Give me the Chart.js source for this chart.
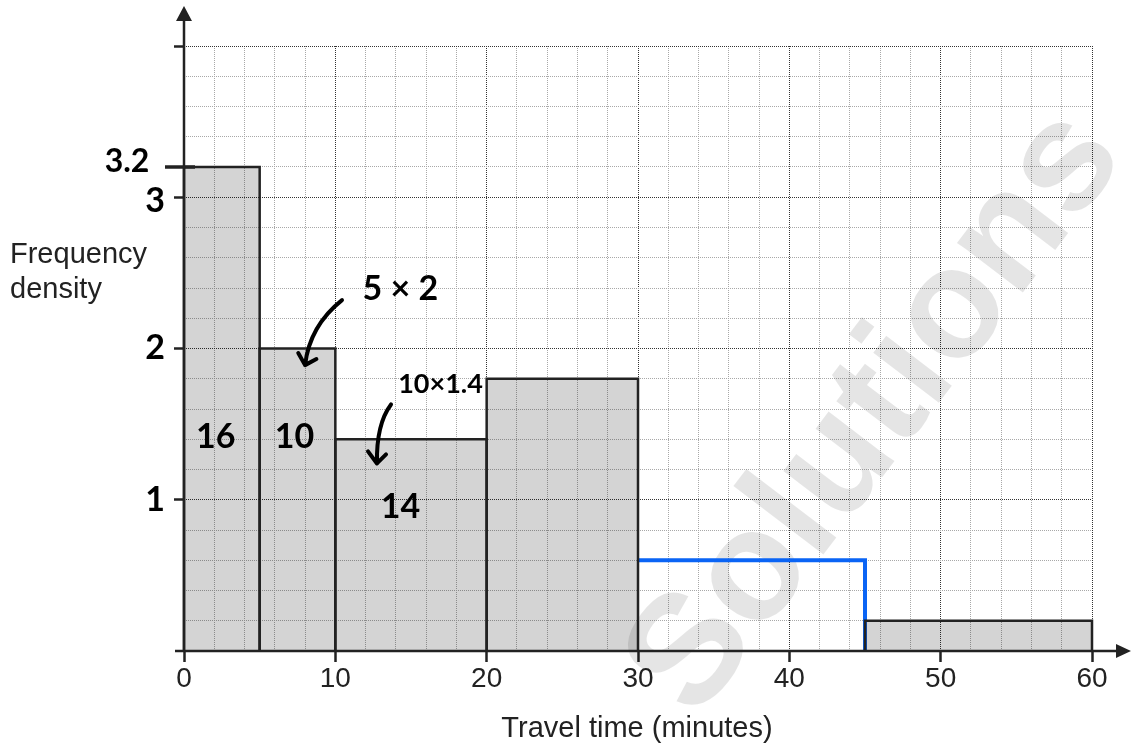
<!DOCTYPE html>
<html>
<head>
<meta charset="utf-8">
<script src="https://cdn.jsdelivr.net/npm/chart.js@4.4.1/dist/chart.umd.min.js"></script>
<style>
  html, body { margin: 0; padding: 0; background: #ffffff; }
  #wrap { width: 1131px; height: 746px; position: relative; }
</style>
</head>
<body>
<div id="wrap"><canvas id="c" width="1131" height="746"></canvas></div>
<script>
// ---- data ----
const classEdges = [0, 5, 10, 20, 30, 45, 60];          // travel time class boundaries (minutes)
const frequencyDensity = [3.2, 2, 1.4, 1.8, 0.6, 0.2];   // bar heights
const blueClassIndex = 4;                                 // class drawn as blue outline (30-45)
const xTickLabels = ['0', '10', '20', '30', '40', '50', '60'];
const yTickLabels = ['1', '2', '3'];
const yMarkLabel = '3.2';
const frequencies = ['16', '10', '14'];
const workingNotes = ['5 × 2', '10×1.4'];
const xTitle = 'Travel time (minutes)';
const yTitle = ['Frequency', 'density'];
const watermark = 'Solutions';

const INK = '#222222';
const HAND = 'bold 34px Lato, "DejaVu Sans", sans-serif';
const isInt = v => Math.abs(v - Math.round(v)) < 1e-9;

// build datasets from the arrays
const datasets = [];
for (let i = 0; i < frequencyDensity.length; i++) {
  const x0 = classEdges[i], x1 = classEdges[i + 1], h = frequencyDensity[i];
  if (i === blueClassIndex) continue;
  datasets.push({
    type: 'line',
    data: [{x: x0, y: 0}, {x: x0, y: h}, {x: x1, y: h}, {x: x1, y: 0}],
    fill: 'origin',
    backgroundColor: 'rgba(0,0,0,0.17)',
    borderColor: INK,
    borderWidth: 2.5,
    pointRadius: 0,
    tension: 0,
    clip: 4
  });
}
{
  const i = blueClassIndex;
  const x0 = classEdges[i], x1 = classEdges[i + 1], h = frequencyDensity[i];
  datasets.push({
    type: 'line',
    data: [{x: x0, y: h}, {x: x1, y: h}, {x: x1, y: 0}],
    fill: false,
    borderColor: '#0a64f5',
    borderWidth: 4,
    pointRadius: 0,
    tension: 0,
    clip: 4
  });
}

const decor = {
  id: 'decor',
  beforeDatasetsDraw(chart) {
    const ctx = chart.ctx;
    ctx.save();
    ctx.translate(877, 413);
    ctx.rotate(-52.7 * Math.PI / 180);
    ctx.font = 'bold 156px "Liberation Sans", Arial, sans-serif';
    ctx.fillStyle = 'rgba(0,0,0,0.1)';
    ctx.textAlign = 'center';
    ctx.textBaseline = 'middle';
    ctx.fillText(watermark, 0, 0);
    ctx.restore();
  },
  afterDraw(chart) {
    const ctx = chart.ctx;
    const xs = chart.scales.x, ys = chart.scales.y;
    const X = v => xs.getPixelForValue(v), Y = v => ys.getPixelForValue(v);
    const a = chart.chartArea;
    ctx.save();
    // axes
    ctx.strokeStyle = INK; ctx.fillStyle = INK; ctx.lineWidth = 2.5; ctx.lineCap = 'butt';
    ctx.beginPath();
    ctx.moveTo(a.left - 9, a.bottom); ctx.lineTo(1120, a.bottom);
    ctx.moveTo(a.left, a.bottom + 1); ctx.lineTo(a.left, 18);
    ctx.stroke();
    ctx.beginPath(); // x arrow
    ctx.moveTo(1131, a.bottom); ctx.lineTo(1116, a.bottom - 7); ctx.lineTo(1116, a.bottom + 7); ctx.closePath(); ctx.fill();
    ctx.beginPath(); // y arrow
    ctx.moveTo(a.left, 6); ctx.lineTo(a.left - 8, 21); ctx.lineTo(a.left + 8, 21); ctx.closePath(); ctx.fill();

    // 3.2 marker
    ctx.lineWidth = 3.5;
    ctx.beginPath(); ctx.moveTo(a.left - 19, Y(3.2)); ctx.lineTo(a.left + 11, Y(3.2)); ctx.stroke();

    // axis titles
    ctx.font = '29px "Liberation Sans", Arial, sans-serif';
    ctx.fillStyle = INK;
    ctx.textAlign = 'left'; ctx.textBaseline = 'alphabetic';
    ctx.fillText(yTitle[0], 10, 263);
    ctx.fillText(yTitle[1], 10, 298);
    ctx.textAlign = 'center';
    ctx.fillText(xTitle, 637, 737);

    // handwritten y labels
    ctx.fillStyle = '#000';
    ctx.font = HAND;
    ctx.textAlign = 'center'; ctx.textBaseline = 'middle';
    yTickLabels.forEach((t, k) => {
      ctx.fillText(t, a.left - 29, Y(k + 1) + (k === 2 ? 4 : 0));
    });
    ctx.font = 'bold 32px Lato, "DejaVu Sans", sans-serif';
    ctx.fillText(yMarkLabel, a.left - 57, Y(3.2) - 5);

    // frequencies written in bars
    ctx.font = HAND;
    ctx.fillText(frequencies[0], X(2.1), Y(1.415));
    ctx.fillText(frequencies[1], X(7.3), Y(1.415));
    ctx.fillText(frequencies[2], X(14.3), Y(0.95));

    // working notes
    ctx.font = 'bold 34px Lato, "DejaVu Sans", sans-serif';
    ctx.fillText(workingNotes[0], X(14.3), Y(2.39));
    ctx.font = 'bold 27px Lato, "DejaVu Sans", sans-serif';
    ctx.fillText(workingNotes[1], X(16.95), Y(1.765));

    // arrows
    ctx.strokeStyle = '#000'; ctx.lineWidth = 4; ctx.lineCap = 'round'; ctx.lineJoin = 'round';
    const arrow = (s, c, e, hl, hr) => {
      ctx.beginPath();
      ctx.moveTo(X(s[0]), Y(s[1]));
      ctx.quadraticCurveTo(X(c[0]), Y(c[1]), X(e[0]), Y(e[1]));
      ctx.moveTo(X(hl[0]), Y(hl[1])); ctx.lineTo(X(e[0]), Y(e[1])); ctx.lineTo(X(hr[0]), Y(hr[1]));
      ctx.stroke();
    };
    arrow([10.44, 2.32], [8.3, 2.15], [8.0, 1.89], [7.55, 1.97], [8.75, 1.93]);
    arrow([13.68, 1.63], [12.7, 1.5], [12.75, 1.24], [12.16, 1.32], [13.35, 1.30]);
    ctx.restore();
  }
};

new Chart(document.getElementById('c'), {
  type: 'line',
  data: { datasets },
  options: {
    responsive: false,
    animation: false,
    layout: { padding: { top: 46, right: 39, left: 0, bottom: 0 } },
    plugins: { legend: { display: false }, tooltip: { enabled: false } },
    scales: {
      x: {
        type: 'linear', min: 0, max: 60,
        ticks: {
          stepSize: 2, autoSkip: false, maxRotation: 0, padding: 0,
          color: INK,
          font: { family: '"Liberation Sans", Arial, sans-serif', size: 28 },
          callback: v => (v % 10 === 0 ? xTickLabels[v / 10] : '')
        },
        grid: {
          color: c => (c.tick && c.tick.value % 10 === 0 ? '#333' : '#a8a8a8'),
          lineWidth: 1,
          tickLength: 11,
          tickWidth: 2.5,
          tickColor: c => (c.tick && c.tick.value % 10 === 0 ? INK : 'rgba(0,0,0,0)')
        },
        border: { display: false, dash: [1, 1] },
        afterFit: s => { s.height = 95; }
      },
      y: {
        type: 'linear', min: 0, max: 4,
        ticks: { stepSize: 0.2, display: false },
        grid: {
          color: c => (c.tick && isInt(c.tick.value) ? '#333' : '#a8a8a8'),
          lineWidth: 1,
          tickLength: 10,
          tickWidth: 2.5,
          tickColor: c => (c.tick && isInt(c.tick.value) && c.tick.value >= 1 ? INK : 'rgba(0,0,0,0)')
        },
        border: { display: false, dash: [1, 1] },
        afterFit: s => { s.width = 184; }
      }
    }
  },
  plugins: [decor]
});
</script>
</body>
</html>
